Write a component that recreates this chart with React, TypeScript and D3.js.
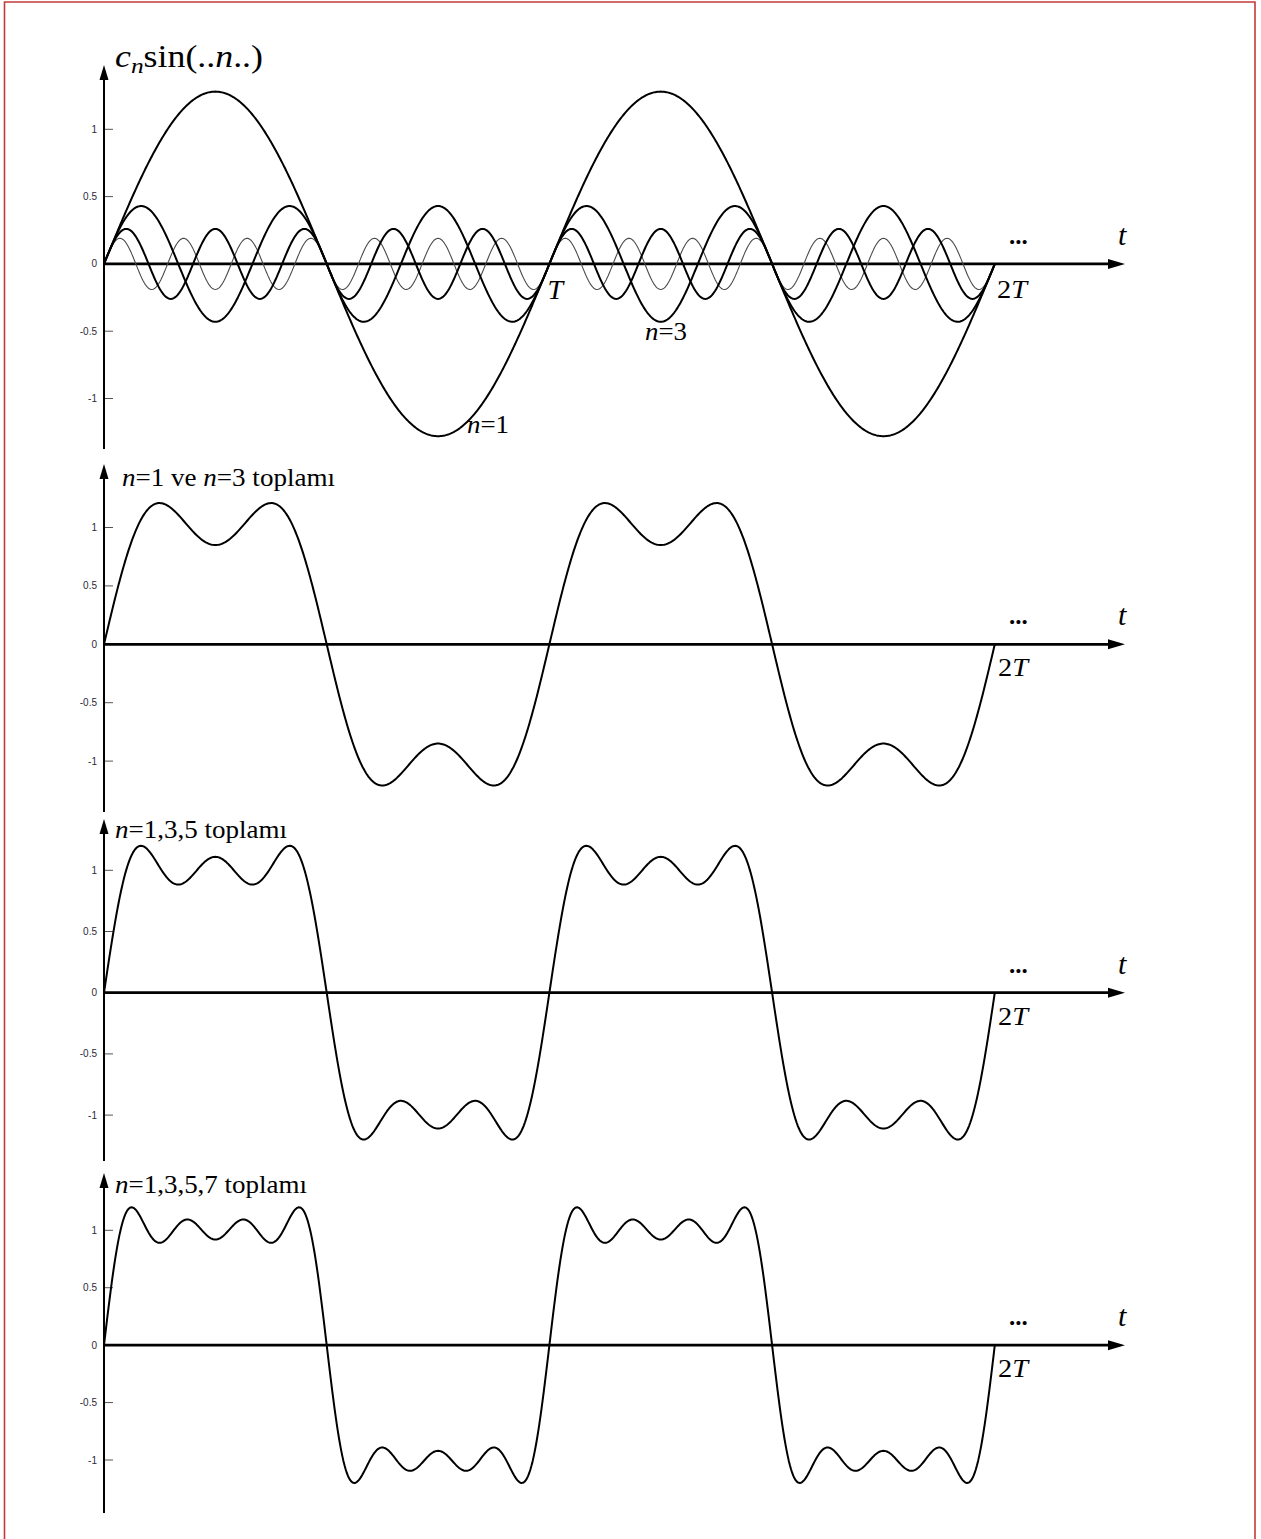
import React from "react";
import * as d3 from "d3";

// ---- data ----
const harmonics = [1, 3, 5, 7];
const amplitudes = [1.28, 0.43, 0.26, 0.19];
const sumGroups = [
  [1, 3],
  [1, 3, 5],
  [1, 3, 5, 7],
];
const tickValues = [1, 0.5, 0, -0.5, -1];
const tickLabels = ["1", "0.5", "0", "-0.5", "-1"];
const periodTicks = [1, 2]; // T, 2T
const sumTitles = ["n=1 ve n=3 toplamı", "n=1,3,5 toplamı", "n=1,3,5,7 toplamı"];

// ---- layout ----
const W = 1261;
const H = 1539;
const X0 = 104;
const X2T = 994.8;
const AXIS_END = 1125;

const panels = [
  { top: 65, bottom: 449, yPos: 129.3, yNeg: 398.5 },
  { top: 464, bottom: 812, yPos: 527.5, yNeg: 761.1 },
  { top: 819, bottom: 1161, yPos: 870.3, yNeg: 1115.1 },
  { top: 1173, bottom: 1513, yPos: 1230.3, yNeg: 1460 },
];

const x = d3.scaleLinear().domain([0, 2]).range([X0, X2T]);
const samples = d3.range(0, 801).map((i) => (i / 800) * 2);

function ampOf(n: number) {
  return amplitudes[harmonics.indexOf(n)];
}
function evalSum(ns: number[], t: number) {
  return ns.reduce((s, n) => s + ampOf(n) * Math.sin(2 * Math.PI * n * t), 0);
}

const serif = "'Liberation Serif', 'Times New Roman', serif";
const sans = "'Liberation Sans', Arial, sans-serif";

function Axes({ p, idx }: { p: (typeof panels)[number]; idx: number }) {
  const y = d3.scaleLinear().domain([-1, 1]).range([p.yNeg, p.yPos]);
  const y0 = y(0);
  return (
    <g>
      {tickValues.map((v, i) => (
        <g key={i}>
          <line x1={X0} x2={X0 + 9} y1={y(v)} y2={y(v)} stroke="#555" strokeWidth={1} />
          <text
            x={97}
            y={y(v) + 3.5}
            textAnchor="end"
            fontFamily={sans}
            fontSize={10}
            fill="#2a2a3a"
          >
            {tickLabels[i]}
          </text>
        </g>
      ))}
      <line x1={X0} x2={X0} y1={p.top + 10} y2={p.bottom} stroke="#000" strokeWidth={2} />
      <path
        d={`M${X0},${p.top} L${X0 - 4.5},${p.top + 15} L${X0 + 4.5},${p.top + 15} Z`}
        fill="#000"
      />
      <line x1={X0} x2={AXIS_END - 12} y1={y0} y2={y0} stroke="#000" strokeWidth={2.8} />
      <path
        d={`M${AXIS_END},${y0} L${AXIS_END - 17},${y0 - 5} L${AXIS_END - 17},${y0 + 5} Z`}
        fill="#000"
      />
      <text x={1118} y={y0 - 19} fontFamily={serif} fontStyle="italic" fontSize={30} fill="#000">
        t
      </text>
      <text x={1009} y={y0 - 20} fontFamily={serif} fontWeight="bold" fontSize={25} fill="#000">
        ...
      </text>
      <text
        x={idx === 0 ? 997 : 998}
        y={y0 + (idx === 0 ? 34 : 32)}
        fontFamily={serif}
        fontSize={26}
        fill="#000"
        textLength={30}
        lengthAdjust="spacingAndGlyphs"
      >
        {periodTicks[1]}
        <tspan fontStyle="italic">T</tspan>
      </text>
    </g>
  );
}

export default function App() {
  const p1 = panels[0];
  const y1 = d3.scaleLinear().domain([-1, 1]).range([p1.yNeg, p1.yPos]);
  const line1 = (n: number) =>
    d3
      .line<number>()
      .x((t) => x(t))
      .y((t) => y1(evalSum([n], t)))(samples) as string;

  const order = [7, 5, 3, 1];

  return (
    <svg width={W} height={H} style={{ position: "absolute", left: 0, top: 0, background: "#fff" }}>
      <rect x={0} y={0} width={W} height={H} fill="#fff" />
      <path d={`M4.5,${H + 5} L4.5,2 L1255,2 L1255,${H + 5}`} fill="none" stroke="#c43a3a" strokeWidth={1.6} />

      <Axes p={p1} idx={0} />
      {order.map((n) => (
        <path
          key={n}
          d={line1(n)}
          fill="none"
          stroke={n === 7 ? "#4a4a4a" : "#000"}
          strokeWidth={n === 7 ? 1.1 : 2}
          strokeLinejoin="round"
        />
      ))}
      <text x={115} y={67} fontFamily={serif} fontSize={31} fill="#000" textLength={148} lengthAdjust="spacingAndGlyphs">
        <tspan fontStyle="italic">c</tspan>
        <tspan fontStyle="italic" fontSize={22} dy={6}>n</tspan>
        <tspan dy={-6}>sin(..</tspan>
        <tspan fontStyle="italic">n</tspan>
        <tspan>..)</tspan>
      </text>
      <text x={x(periodTicks[0]) - 2} y={299} fontFamily={serif} fontStyle="italic" fontSize={28} fill="#000">
        T
      </text>
      <text x={645} y={340} fontFamily={serif} fontSize={25} fill="#000" textLength={42} lengthAdjust="spacingAndGlyphs">
        <tspan fontStyle="italic">n</tspan>=3
      </text>
      <text x={467} y={433} fontFamily={serif} fontSize={25} fill="#000" textLength={42} lengthAdjust="spacingAndGlyphs">
        <tspan fontStyle="italic">n</tspan>=1
      </text>

      {sumGroups.map((ns, i) => {
        const p = panels[i + 1];
        const y = d3.scaleLinear().domain([-1, 1]).range([p.yNeg, p.yPos]);
        const d = d3
          .line<number>()
          .x((t) => x(t))
          .y((t) => y(evalSum(ns, t)))(samples) as string;
        const parts = sumTitles[i].split(/(n)(?==)/);
        const titleX = i === 0 ? 122 : 115;
        const titleY = i === 0 ? 486 : i === 1 ? 838 : 1193;
        const titleW = i === 0 ? 213 : i === 1 ? 172 : 192;
        return (
          <g key={i}>
            <Axes p={p} idx={i + 1} />
            <path d={d} fill="none" stroke="#000" strokeWidth={2} strokeLinejoin="round" />
            <text
              x={titleX}
              y={titleY}
              fontFamily={serif}
              fontSize={25}
              fill="#000"
              textLength={titleW}
              lengthAdjust="spacingAndGlyphs"
            >
              {parts.map((s, k) =>
                s === "n" ? (
                  <tspan key={k} fontStyle="italic">
                    n
                  </tspan>
                ) : (
                  <tspan key={k}>{s}</tspan>
                )
              )}
            </text>
          </g>
        );
      })}
    </svg>
  );
}
